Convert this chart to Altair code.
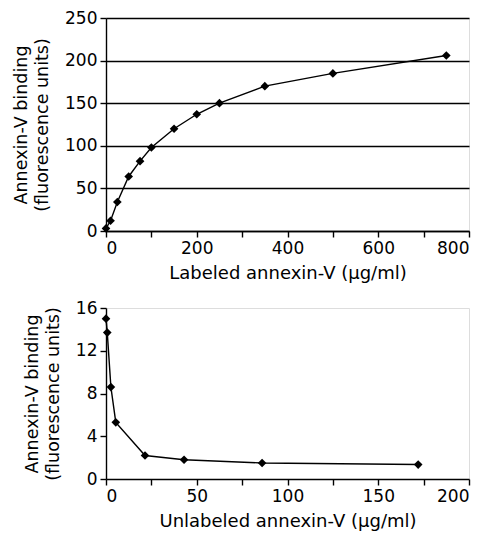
import altair as alt
import pandas as pd

# Top panel: labeled annexin-V
lab_conc = [0, 10, 25, 50, 75, 100, 150, 200, 250, 350, 500, 750]
lab_bind = [3, 12, 34, 64, 82, 98, 120, 137, 150, 170, 185, 206]

# Bottom panel: unlabeled annexin-V competition
unl_conc = [0, 0.7, 2.7, 5.4, 21.5, 43, 86, 172]
unl_bind = [15.0, 13.7, 8.6, 5.3, 2.2, 1.8, 1.5, 1.35]

top_df = pd.DataFrame({"x": lab_conc, "y": lab_bind})
bot_df = pd.DataFrame({"x": unl_conc, "y": unl_bind})

FONT = "DejaVu Sans"
ytitle = ["Annexin-V binding", "(fluorescence units)"]

def axis(values, label_every=None, grid=False, title=None, is_y=False):
    kw = dict(values=values, grid=grid, domainColor="black", tickColor="black",
              tickSize=6, labelColor="black", labelFont=FONT, labelFontSize=17,
              titleFont=FONT, titleFontWeight="normal",
              titleColor="black", labelPadding=3, domainWidth=1.4, tickWidth=1.4,
              title=title)
    if is_y:
        kw.update(titleFontSize=17.5, titlePadding=13, titleLineHeight=21)
    else:
        kw.update(titleFontSize=18, titlePadding=8)
    if grid:
        kw.update(gridColor="black", gridWidth=1.4, gridOpacity=1)
    if label_every:
        kw["labelExpr"] = f"datum.value % {label_every} == 0 ? datum.label : ''"
    return alt.Axis(**kw)

PW = 363

top_base = alt.Chart(top_df)
top = (
    top_base.mark_line(color="black", strokeWidth=1.4)
    .encode(
        x=alt.X("x:Q", scale=alt.Scale(domain=[0, 800], nice=False),
                axis=axis(list(range(0, 801, 100)), 200, title="Labeled annexin-V (µg/ml)")),
        y=alt.Y("y:Q", scale=alt.Scale(domain=[0, 250], nice=False),
                axis=axis(list(range(0, 251, 50)), grid=True, title=ytitle, is_y=True)),
    )
    + top_base.mark_point(shape="diamond", filled=True, color="black", size=75, opacity=1)
    .encode(x="x:Q", y="y:Q")
).properties(width=PW, height=213)

bot_base = alt.Chart(bot_df)
bot = (
    bot_base.mark_line(color="black", strokeWidth=1.4)
    .encode(
        x=alt.X("x:Q", scale=alt.Scale(domain=[0, 200], nice=False),
                axis=axis(list(range(0, 201, 25)), 50, title="Unlabeled annexin-V (µg/ml)")),
        y=alt.Y("y:Q", scale=alt.Scale(domain=[0, 16], nice=False),
                axis=axis(list(range(0, 17, 2)), 4, title=ytitle, is_y=True)),
    )
    + bot_base.mark_point(shape="diamond", filled=True, color="black", size=75, opacity=1)
    .encode(x="x:Q", y="y:Q")
).properties(width=PW, height=171)

chart = (
    alt.vconcat(top, bot, spacing=15)
    .properties(padding={"left": 4, "right": 0, "top": 0, "bottom": 0})
    .configure_view(stroke="black", strokeWidth=1.4)
    .configure(background="white")
)

chart.save("out.html", embed_options={"renderer": "svg", "actions": False})
